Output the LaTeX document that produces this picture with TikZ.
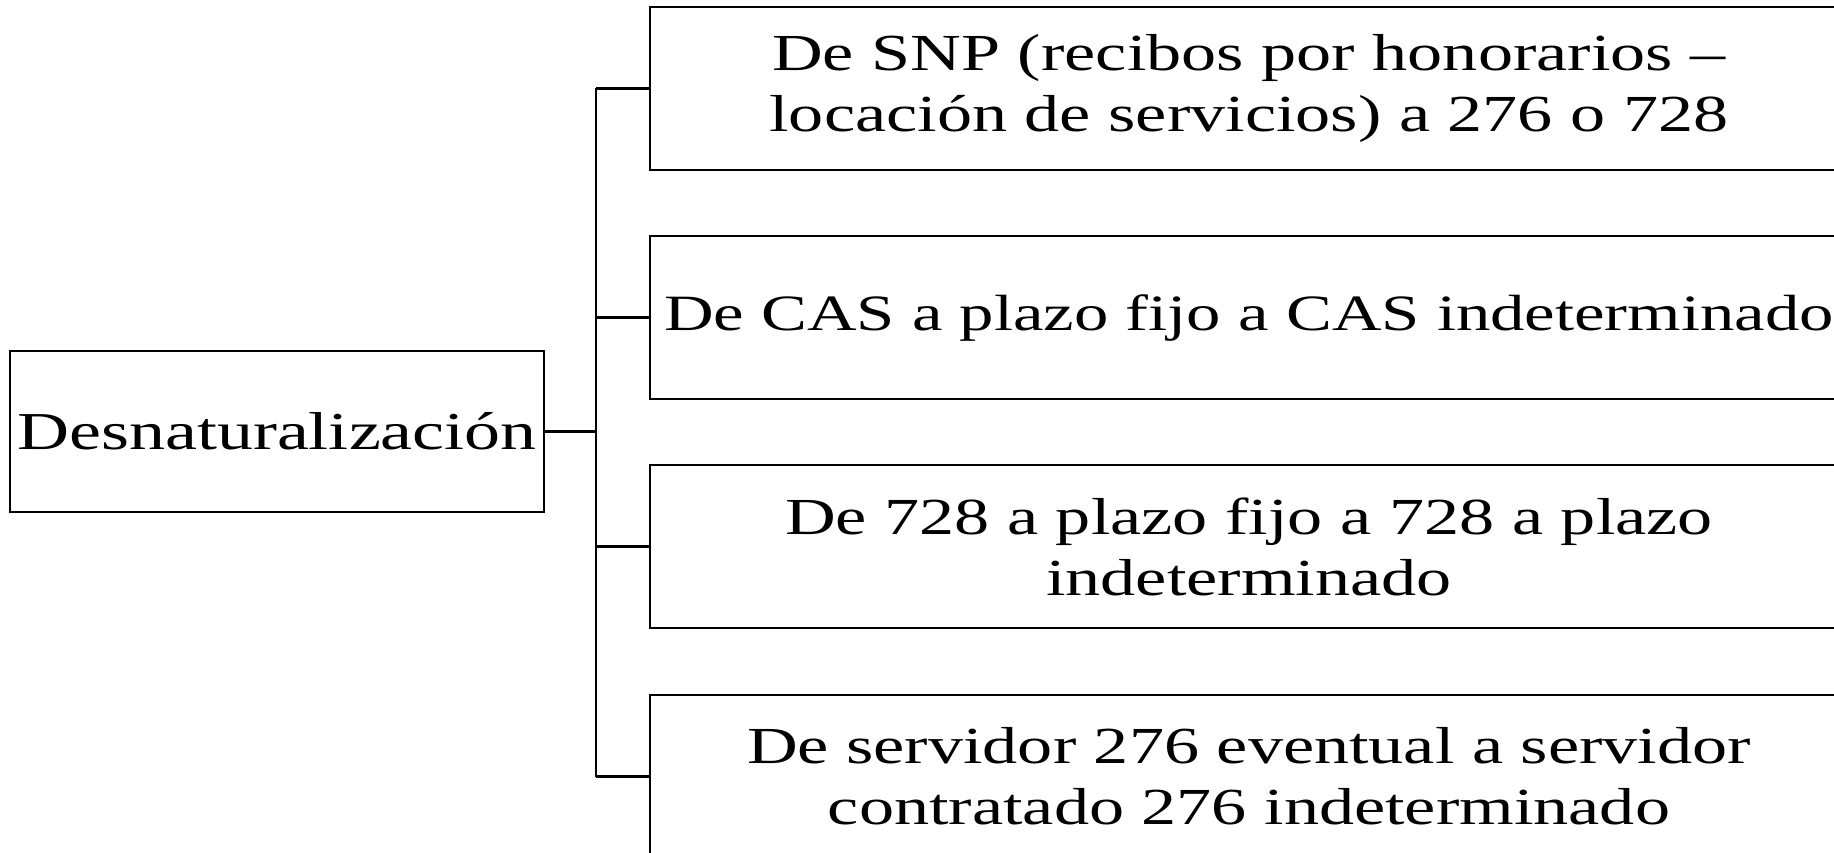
\documentclass[tikz,border=0pt]{standalone}
\usepackage{fontspec}
\setmainfont[FakeStretch=1.35]{Liberation Serif}
\begin{document}
\begin{tikzpicture}[x=1pt,y=-1pt,
  box/.style={draw=black,line width=1.8pt,inner sep=0pt,align=center,
    font=\fontsize{52}{61}\selectfont},
  lbox/.style={box,minimum width=533.5pt,minimum height=161pt,
    font=\fontsize{53.3}{61}\selectfont},
  rbox/.style={box,minimum width=1198pt,minimum height=163pt},
  conn/.style={line width=2.2pt}]
\useasboundingbox (0,0) rectangle (1834,853);
\clip (0,0) rectangle (1834,853);
\fill[white] (0,0) rectangle (1834,853);
\node[lbox] (L) at (277,431.5) {Desnaturalización};
\node[rbox] (b1) at (1249,88.5) {De SNP (recibos por honorarios –\\locación de servicios) a 276 o 728};
\node[rbox,font=\fontsize{50.9}{61}\selectfont] (b2) at (1249,317.5) {De CAS a plazo fijo a CAS indeterminado};
\node[rbox] (b3) at (1249,546.5) {De 728 a plazo fijo a 728 a plazo\\indeterminado};
\node[rbox] (b4) at (1249,776.5) {De servidor 276 eventual a servidor\\contratado 276 indeterminado};
\coordinate (j) at (596,431.5);
\draw[conn] (L.east) -- (j);
\draw[conn] (j |- b1.west) -- (j |- b4.west);
\draw[conn] (j |- b1.west) -- (b1.west);
\draw[conn] (j |- b2.west) -- (b2.west);
\draw[conn] (j |- b3.west) -- (b3.west);
\draw[conn] (j |- b4.west) -- (b4.west);
\end{tikzpicture}
\end{document}
